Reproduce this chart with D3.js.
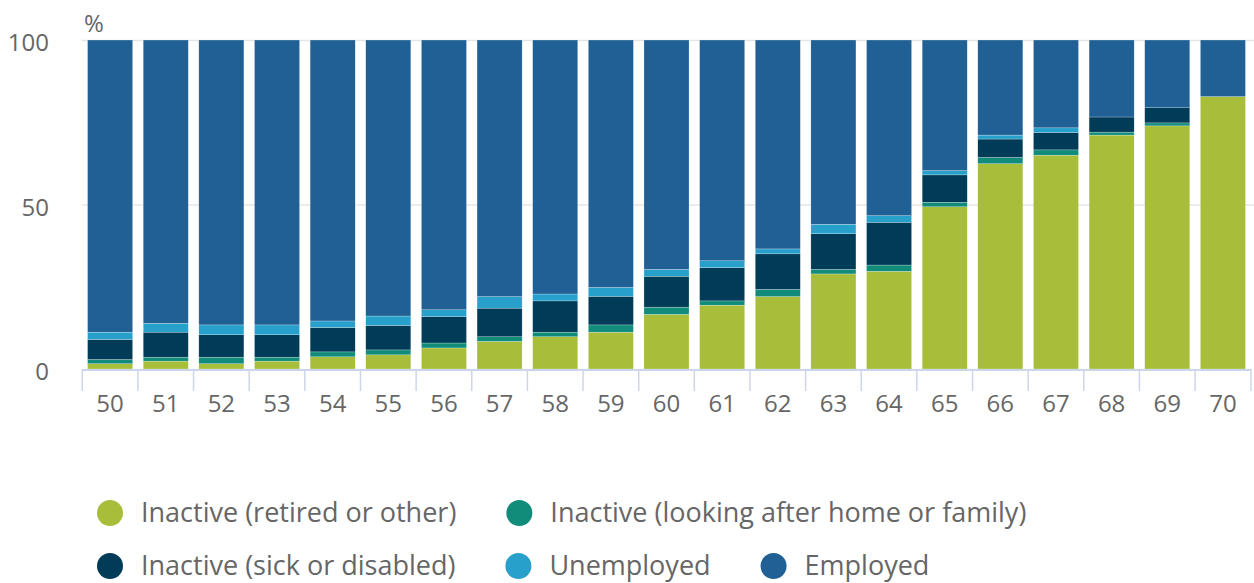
<!DOCTYPE html>
<html>
<head>
<meta charset="utf-8">
<script src="https://cdn.jsdelivr.net/npm/d3@7"></script>
<style>
  body { margin: 0; background: #fff; }
  svg { font-family: "Open Sans", sans-serif; }
</style>
</head>
<body>
<script>
"use strict";
(function(){
    // ages on the x axis
    const ages = ["50","51","52","53","54","55","56","57","58","59","60","61","62","63","64","65","66","67","68","69","70"]

    // percentages by status
    const retired  = [1.6, 2.4, 1.6, 2.4, 3.7, 4.3, 6.4, 8.4, 9.8, 11.2, 16.6, 19.4, 22.0, 28.9, 29.7, 49.3, 62.4, 65.0, 71.1, 73.9, 82.8]
    const homeFam  = [1.3, 1.2, 2.0, 1.2, 1.5, 1.5, 1.5, 1.4, 1.4, 2.2, 2.2, 1.3, 2.2, 1.4, 1.9, 1.4, 1.9, 1.6, 0.9, 0.9, 0]
    const sick     = [6.1, 7.6, 6.8, 6.8, 7.4, 7.4, 8.0, 8.7, 9.5, 8.7, 9.4, 10.1, 10.8, 10.8, 13.0, 8.3, 5.6, 5.3, 4.6, 4.6, 0]
    const unemp    = [2.2, 2.7, 3.0, 3.0, 2.0, 2.9, 2.1, 3.5, 2.1, 2.7, 2.1, 2.1, 1.5, 2.9, 2.0, 1.3, 1.2, 1.4, 0, 0, 0]
    const employed = [88.8, 86.1, 86.6, 86.6, 85.4, 83.9, 82.0, 78.0, 77.2, 75.2, 69.7, 67.1, 63.5, 56.0, 53.4, 39.7, 28.9, 26.7, 23.4, 20.6, 17.2]

    const seriesNames = ["Inactive (retired or other)", "Inactive (looking after home or family)",
        "Inactive (sick or disabled)", "Unemployed", "Employed"]
    const seriesColors = ["#a8bd3a", "#118c7b", "#003c57", "#27a0cc", "#206095"]
    const yTicks = [0, 50, 100]

    const measurements = {
        width: 1254,
        height: 583,
        left: 82,
        right: 1251,
        top: 40,
        bottom: 369
    }

    const svgContainer = d3.select('body').append('svg')
        .attr('width', measurements.width)
        .attr('height', measurements.height)

    const keys = ["retired", "homeFam", "sick", "unemp", "employed"]
    const data = ages.map((a, i) => ({
        age: a,
        retired: retired[i],
        homeFam: homeFam[i],
        sick: sick[i],
        unemp: unemp[i],
        employed: employed[i]
    }))

    const scaleX = d3.scaleBand()
        .domain(ages)
        .range([measurements.left, measurements.right])
        .paddingInner(0.19)
        .paddingOuter(0.1)

    const scaleY = d3.scaleLinear()
        .domain([0, 100])
        .range([measurements.bottom, measurements.top])

    // gridlines
    svgContainer.append('g')
        .selectAll('line')
        .data(yTicks.filter(d => d > 0))
        .enter().append('line')
        .attr('x1', measurements.left)
        .attr('x2', measurements.width)
        .attr('y1', d => scaleY(d) + 0.5)
        .attr('y2', d => scaleY(d) + 0.5)
        .attr('stroke', '#e6e6e6')
        .attr('stroke-width', 1.5)

    // y labels
    svgContainer.append('g')
        .selectAll('text')
        .data(yTicks)
        .enter().append('text')
        .attr('x', 49)
        .attr('y', d => scaleY(d) + 11)
        .attr('text-anchor', 'end')
        .attr('fill', '#666')
        .style('font-size', '24px')
        .text(d => d)

    svgContainer.append('text')
        .attr('x', 84)
        .attr('y', 32)
        .attr('fill', '#666')
        .style('font-size', '24px')
        .text('%')

    // stacked bars
    const stacked = d3.stack().keys(keys)(data)
    svgContainer.append('g')
        .selectAll('g')
        .data(stacked)
        .enter().append('g')
        .attr('fill', (d, i) => seriesColors[i])
        .selectAll('rect')
        .data(d => d)
        .enter().append('rect')
        .attr('x', d => scaleX(d.data.age))
        .attr('width', scaleX.bandwidth())
        .attr('y', d => scaleY(d[1]))
        .attr('height', d => scaleY(d[0]) - scaleY(d[1]))
        .attr('stroke', '#ffffff')
        .attr('stroke-width', 0.4)
        .attr('stroke-opacity', 0.6)

    // x axis
    const half = (scaleX.step() - scaleX.bandwidth()) / 2
    const xAxis = svgContainer.append('g')
    xAxis.append('line')
        .attr('x1', measurements.left)
        .attr('x2', measurements.right)
        .attr('y1', measurements.bottom + 1)
        .attr('y2', measurements.bottom + 1)
        .attr('stroke', '#ccd6eb')
        .attr('stroke-width', 2)
    xAxis.selectAll('.tick')
        .data(ages.concat(['end']))
        .enter().append('line')
        .attr('x1', (d, i) => i < ages.length ? scaleX(d) - half : measurements.right)
        .attr('x2', (d, i) => i < ages.length ? scaleX(d) - half : measurements.right)
        .attr('y1', measurements.bottom)
        .attr('y2', measurements.bottom + 22)
        .attr('stroke', '#ccd6eb')
        .attr('stroke-width', 1.5)
    xAxis.selectAll('text')
        .data(ages)
        .enter().append('text')
        .attr('x', d => scaleX(d) + scaleX.bandwidth() / 2)
        .attr('y', 412)
        .attr('text-anchor', 'middle')
        .attr('fill', '#666')
        .style('font-size', '24px')
        .text(d => d)

    // legend, flowing in two rows
    const rows = [[0, 1], [2, 3, 4]]
    const rowY = [513, 566]
    rows.forEach((row, r) => {
        let cx = 110
        row.forEach(idx => {
            const g = svgContainer.append('g')
            g.append('circle')
                .attr('cx', cx)
                .attr('cy', rowY[r])
                .attr('r', 13)
                .attr('fill', seriesColors[idx])
            const t = g.append('text')
                .attr('x', cx + 31)
                .attr('y', rowY[r] + 9)
                .attr('fill', '#666')
                .style('font-size', '27px')
                .text(seriesNames[idx])
            cx = cx + 31 + t.node().getComputedTextLength() + 63
        })
    })
})()
</script>
</body>
</html>
